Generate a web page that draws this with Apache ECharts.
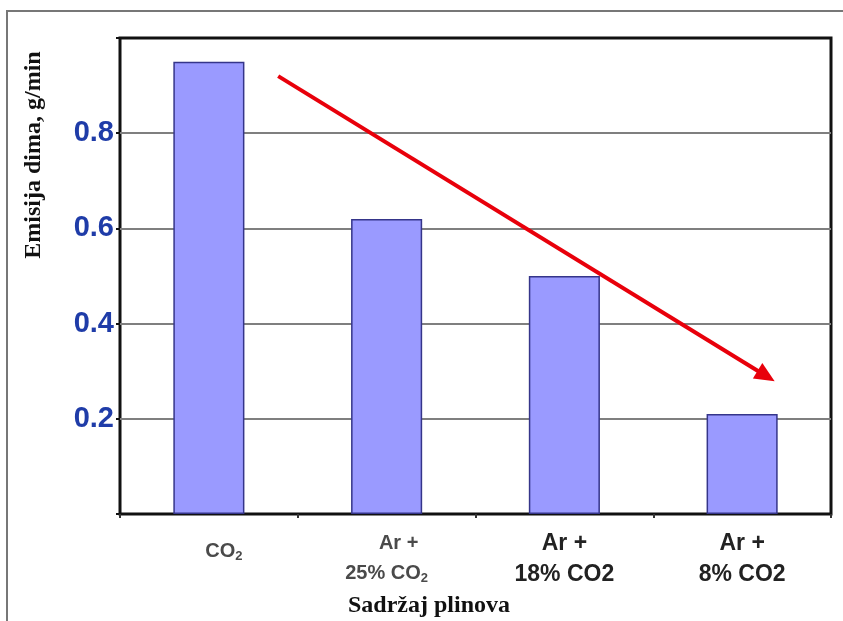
<!DOCTYPE html>
<html><head><meta charset="utf-8">
<script src="https://cdn.jsdelivr.net/npm/echarts@6/dist/echarts.min.js"></script>
<style>html,body{margin:0;padding:0;background:#fff}#c{width:843px;height:621px}</style>
</head><body><div id="c"></div>
<script>
var categories = ['CO2', 'Ar + 25% CO2', 'Ar + 18% CO2', 'Ar + 8% CO2'];
var values = [0.95, 0.62, 0.50, 0.21];
var yTicks = [0.2, 0.4, 0.6, 0.8];
var arrowStart = [0.89, 0.92];
var arrowEnd = [3.635, 0.29];

var labelFmt = {
  'CO2': '{g1|CO}{gs1|2}',
  'Ar + 25% CO2': '{ga|Ar +}\n{g|25% CO}{gs|2}',
  'Ar + 18% CO2': '{b|Ar +}\n{b|18% CO2}',
  'Ar + 8% CO2': '{b|Ar +}\n{b|8% CO2}'
};

var chart = echarts.init(document.getElementById('c'));
chart.setOption({
  animation: false,
  backgroundColor: '#fff',
  grid: { left: 120, top: 38, right: 12, bottom: 107, show: true, borderColor: '#111', borderWidth: 3, backgroundColor: 'transparent' },
  xAxis: [{
    type: 'category', data: categories,
    axisLine: { show: false },
    axisTick: { show: true, length: 4, lineStyle: { color: '#333', width: 2 }, inside: false },
    axisLabel: {
      margin: 14, interval: 0,
      formatter: function (v) { return labelFmt[v]; },
      rich: {
        g1: { fontFamily: 'Arial, Liberation Sans', fontSize: 20, fontWeight: 'bold', color: '#4a4a4a', lineHeight: 46, padding: [0, 0, 0, 30] },
        gs1: { fontFamily: 'Arial, Liberation Sans', fontSize: 13, fontWeight: 'bold', color: '#4a4a4a', lineHeight: 46, padding: [10, 0, 0, 0] },
        ga: { fontFamily: 'Arial, Liberation Sans', fontSize: 20, fontWeight: 'bold', color: '#4a4a4a', lineHeight: 30, padding: [0, 0, 0, 24] },
        g: { fontFamily: 'Arial, Liberation Sans', fontSize: 20, fontWeight: 'bold', color: '#4a4a4a', lineHeight: 30 },
        gs: { fontFamily: 'Arial, Liberation Sans', fontSize: 13, fontWeight: 'bold', color: '#4a4a4a', lineHeight: 30, padding: [10, 0, 0, 0] },
        b: { fontFamily: 'Arial, Liberation Sans', fontSize: 23, fontWeight: 'bold', color: '#222', lineHeight: 31 }
      }
    }
  }, {
    type: 'value', min: 0, max: 4, show: false
  }],
  yAxis: {
    type: 'value', min: 0, max: 1.0, interval: 0.2,
    axisLine: { show: false },
    axisTick: { show: true, length: 4, inside: false, lineStyle: { color: '#111', width: 2 } },
    splitLine: { showMinLine: false, showMaxLine: false, lineStyle: { color: '#7f7f7f', width: 2 } },
    axisLabel: {
      margin: 6,
      fontFamily: 'Arial, Liberation Sans', fontSize: 29, fontWeight: 'bold', color: '#1f3ca8',
      formatter: function (v) { var r = Math.round(v * 10) / 10; return yTicks.indexOf(r) >= 0 ? r.toFixed(1) : ''; }
    }
  },
  series: [{
    type: 'bar', data: values, barWidth: '40%',
    itemStyle: { color: '#9a9aff', borderColor: '#35358a', borderWidth: 1.5 },
    z: 3
  }, {
    type: 'line', xAxisIndex: 1, data: [], symbol: 'none',
    markLine: {
      silent: true, symbol: ['none', 'triangle'], symbolSize: [18, 20],
      label: { show: false },
      lineStyle: { color: '#e8000b', width: 4, type: 'solid' },
      data: [[{ coord: arrowStart }, { coord: arrowEnd }]]
    },
    z: 5
  }],
  graphic: [
    { type: 'rect', shape: { x: 7, y: 11, width: 850, height: 630 }, style: { fill: 'none', stroke: '#777', lineWidth: 2 }, z: -1 },
    { type: 'text', x: 34, y: 155, rotation: Math.PI / 2, style: { text: 'Emisija dima, g/min', font: 'bold 24px "Liberation Serif", "Times New Roman", serif', fill: '#111', align: 'center', verticalAlign: 'middle' } },
    { type: 'text', x: 429, y: 606, style: { text: 'Sadržaj plinova', font: 'bold 24px "Liberation Serif", "Times New Roman", serif', fill: '#111', align: 'center', verticalAlign: 'middle' } }
  ]
});
</script></body></html>
